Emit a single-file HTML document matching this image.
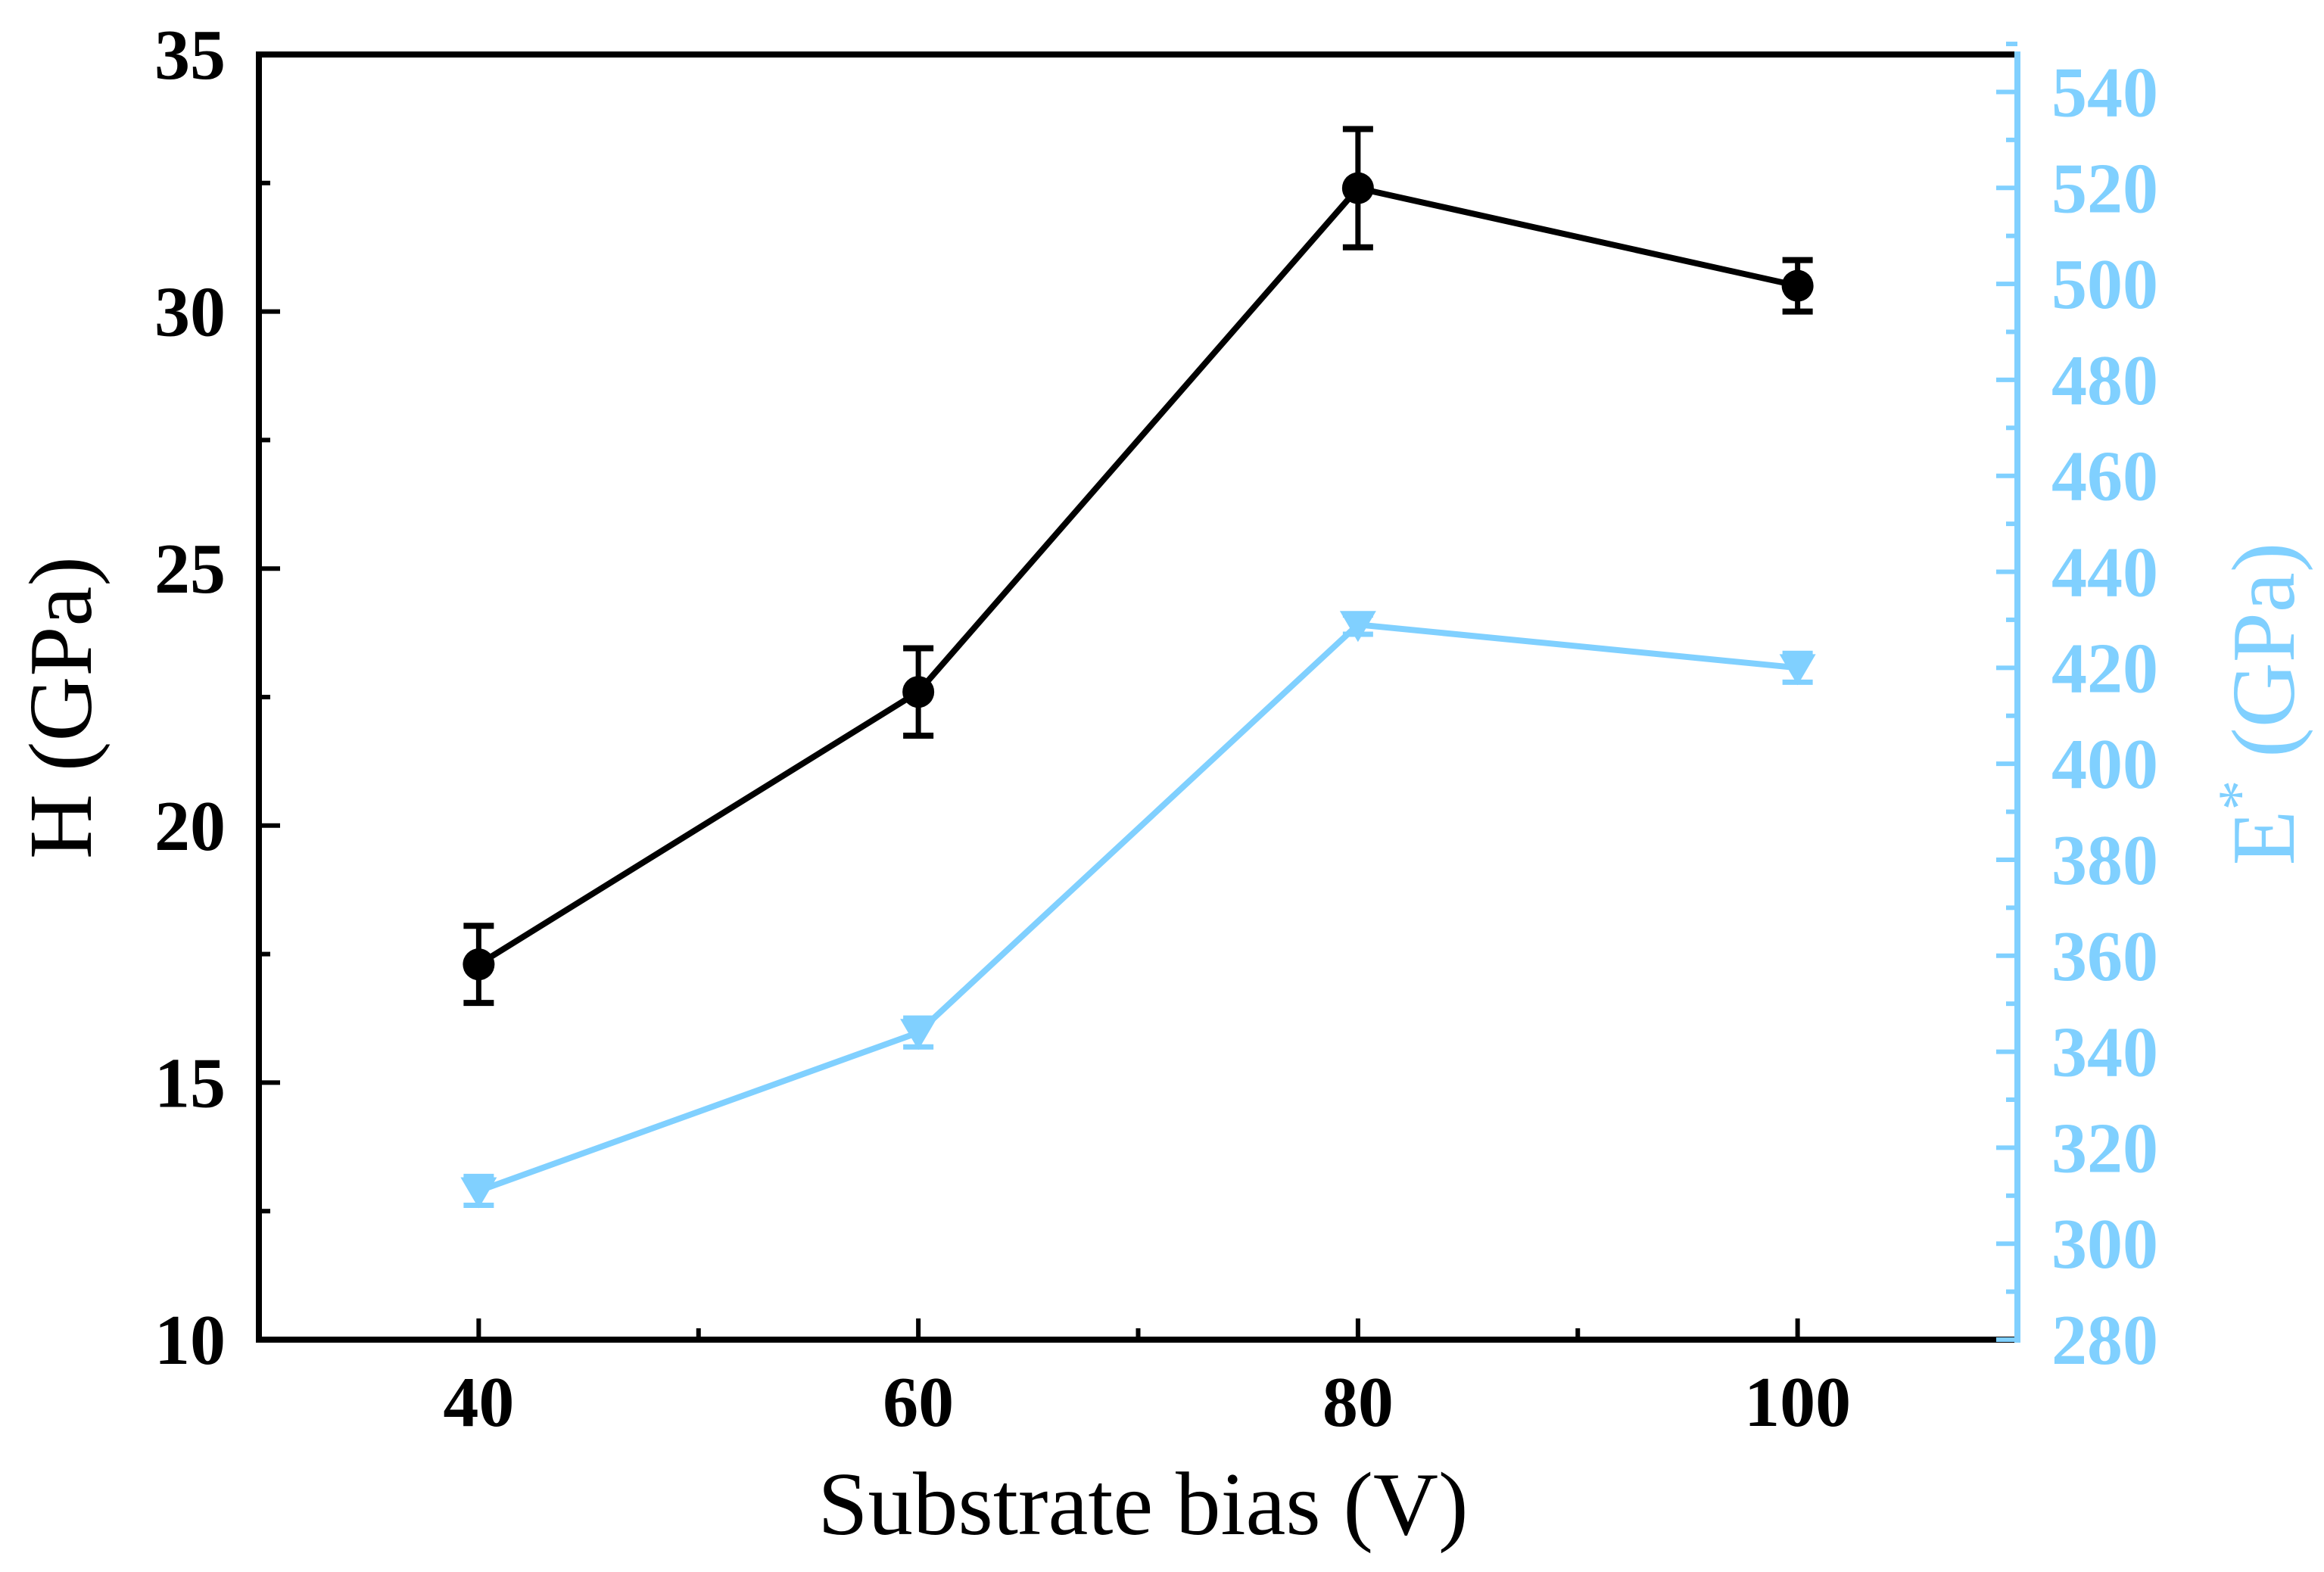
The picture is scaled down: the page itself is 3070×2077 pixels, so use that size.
<!DOCTYPE html>
<html><head><meta charset="utf-8"><style>
html,body{margin:0;padding:0;background:#fff;}
svg{display:block;}
text{font-family:"Liberation Serif","Times New Roman",serif;}
</style></head><body>
<svg id="chart" width="3070" height="2077" viewBox="0 0 3070 2077" xmlns="http://www.w3.org/2000/svg">
<g id="axes"></g>
<g id="series"></g>
<text x="1510" y="2027" font-size="119" text-anchor="middle" fill="#000">Substrate bias (V)</text>
<text transform="translate(120,935) rotate(-90)" font-size="119" text-anchor="middle" fill="#000">H (GPa)</text>
<text transform="translate(3030,930) rotate(-90)" font-size="119" text-anchor="middle" fill="#80d0ff">E<tspan dy="-45" font-size="80">*</tspan><tspan dy="45"> (GPa)</tspan></text>
</svg>
<script>
const categories = [40, 60, 80, 100];
const hardness = [17.3, 22.6, 32.4, 30.5];
const hardnessErr = [0.75, 0.85, 1.15, 0.5];
const modulus = [311, 344, 429, 420];
const modulusErr = [3, 3, 2, 3];
const xTicks = [40, 60, 80, 100];
const xMinorTicks = [50, 70, 90];
const leftTicks = [10, 15, 20, 25, 30, 35];
const leftMinorTicks = [12.5, 17.5, 22.5, 27.5, 32.5];
const rightTicks = [280,300,320,340,360,380,400,420,440,460,480,500,520,540];

const L=342, R=2665, T=72, B=1770;
const X0=30, X1=110, H0=10, H1=35, E0=280, E1=547.8;
const BLUE="#80d0ff";
const FS=94;
const sx=v=>L+(v-X0)/(X1-X0)*(R-L);
const sh=v=>B-(v-H0)/(H1-H0)*(B-T);
const se=v=>B-(v-E0)/(E1-E0)*(B-T);
const NS="http://www.w3.org/2000/svg";
function mk(tag,parent,attrs){const e=document.createElementNS(NS,tag);for(const k in attrs)e.setAttribute(k,attrs[k]);parent.appendChild(e);return e;}
const axes=document.getElementById('axes'), ser=document.getElementById('series');

let e;
e=mk('line',axes,{x1:L,y1:T-4,x2:L,y2:B+4,stroke:'#000','stroke-width':8});


e=mk('line',axes,{x1:L-4,y1:B,x2:R,y2:B,stroke:'#000','stroke-width':8});


e=mk('line',axes,{x1:L-4,y1:T,x2:R-4,y2:T,stroke:'#000','stroke-width':8});


e=mk('line',axes,{x1:R,y1:T-4,x2:R,y2:B+4,stroke:BLUE,'stroke-width':8});



xTicks.forEach(v=>{
  e=mk('line',axes,{x1:sx(v),y1:B,x2:sx(v),y2:B-28,stroke:'#000','stroke-width':6});
  
  
  e=mk('text',axes,{x:sx(v),y:1884,'font-size':FS,'font-weight':'bold','text-anchor':'middle',fill:'#000'});
  e.textContent=v;
  
  
});
xMinorTicks.forEach(v=>{
  e=mk('line',axes,{x1:sx(v),y1:B,x2:sx(v),y2:B-15,stroke:'#000','stroke-width':6});
  
  
});
leftTicks.forEach(v=>{
  e=mk('line',axes,{x1:L,y1:sh(v),x2:L+28,y2:sh(v),stroke:'#000','stroke-width':6});
  
  
  e=mk('text',axes,{x:298,y:sh(v)+32,'font-size':FS,'font-weight':'bold','text-anchor':'end',fill:'#000'});
  e.textContent=v;
  
  
});
leftMinorTicks.forEach(v=>{
  e=mk('line',axes,{x1:L,y1:sh(v),x2:L+15,y2:sh(v),stroke:'#000','stroke-width':6});
  
  
});
rightTicks.forEach(v=>{
  e=mk('line',axes,{x1:R,y1:se(v),x2:R-28,y2:se(v),stroke:BLUE,'stroke-width':6});
  
  
  e=mk('line',axes,{x1:R,y1:se(v+10),x2:R-15,y2:se(v+10),stroke:BLUE,'stroke-width':6});
  
  
  e=mk('text',axes,{x:2710,y:se(v)+32,'font-size':FS,'font-weight':'bold','text-anchor':'start',fill:BLUE});
  e.textContent=v;
  
  
});

e=mk('polyline',ser,{points:categories.map((c,i)=>sx(c)+','+se(modulus[i])).join(' '),fill:'none',stroke:BLUE,'stroke-width':8});


categories.forEach((c,i)=>{
  const x=sx(c), y=se(modulus[i]), y1=se(modulus[i]+modulusErr[i]), y2=se(modulus[i]-modulusErr[i]);
  const g=mk('g',ser,{});
  
  
  mk('line',g,{x1:x,y1:y1,x2:x,y2:y2,stroke:BLUE,'stroke-width':6});
  mk('line',g,{x1:x-20,y1:y1,x2:x+20,y2:y1,stroke:BLUE,'stroke-width':7});
  mk('line',g,{x1:x-20,y1:y2,x2:x+20,y2:y2,stroke:BLUE,'stroke-width':7});
  mk('polygon',g,{points:`${x-24},${y-18} ${x+24},${y-18} ${x},${y+23}`,fill:BLUE});
});

e=mk('polyline',ser,{points:categories.map((c,i)=>sx(c)+','+sh(hardness[i])).join(' '),fill:'none',stroke:'#000','stroke-width':8});


categories.forEach((c,i)=>{
  const x=sx(c), y=sh(hardness[i]), y1=sh(hardness[i]+hardnessErr[i]), y2=sh(hardness[i]-hardnessErr[i]);
  const g=mk('g',ser,{});
  
  
  mk('line',g,{x1:x,y1:y1,x2:x,y2:y2,stroke:'#000','stroke-width':7});
  mk('line',g,{x1:x-20,y1:y1,x2:x+20,y2:y1,stroke:'#000','stroke-width':8});
  mk('line',g,{x1:x-20,y1:y2,x2:x+20,y2:y2,stroke:'#000','stroke-width':8});
  mk('circle',g,{cx:x,cy:y,r:21,fill:'#000'});
});
</script>
</body></html>
